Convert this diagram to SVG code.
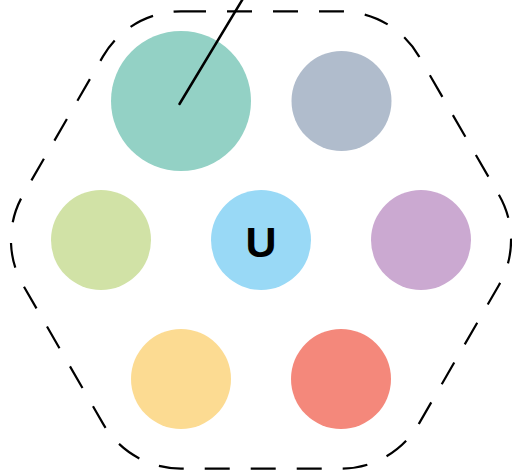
<svg xmlns="http://www.w3.org/2000/svg" width="512" height="475" viewBox="0 0 512 475">
<style>
.hull{fill:none;stroke:#000;stroke-width:2.2;stroke-dasharray:25 21}
.edge{stroke:#000;stroke-width:2.5;stroke-linecap:round;fill:none}
.lbl{font-family:"Liberation Sans",Arial,sans-serif;font-weight:bold;font-size:43px;fill:#000;text-anchor:middle}
</style>
<rect width="512" height="475" fill="#fff"/>
<path class="hull" d="M181,11.4 L341,11.4 A90,90 0 0 1 419,56.4 L499,195 A90,90 0 0 1 499,285 L419,423.6 A90,90 0 0 1 341,468.6 L181,468.6 A90,90 0 0 1 103,423.6 L23,285 A90,90 0 0 1 23,195 L103,56.4 A90,90 0 0 1 181,11.4 Z"/>
<g id="n-teal"><circle cx="181" cy="101" r="70" fill="#93d1c5"/></g>
<g id="n-slate"><circle cx="341.5" cy="101" r="50" fill="#b0bccc"/></g>
<g id="n-green"><circle cx="101" cy="240" r="50" fill="#d1e2a6"/></g>
<g id="n-u"><circle cx="261" cy="240" r="50" fill="#99d9f6"/><text class="lbl" x="261" y="257">U</text></g>
<g id="n-purple"><circle cx="421" cy="240" r="50" fill="#cba9d1"/></g>
<g id="n-yellow"><circle cx="181" cy="379" r="50" fill="#fcdb92"/></g>
<g id="n-red"><circle cx="341" cy="379" r="50" fill="#f4887b"/></g>
<g id="connectors"><line class="edge" x1="179.5" y1="104" x2="250" y2="-13"/></g>
</svg>
